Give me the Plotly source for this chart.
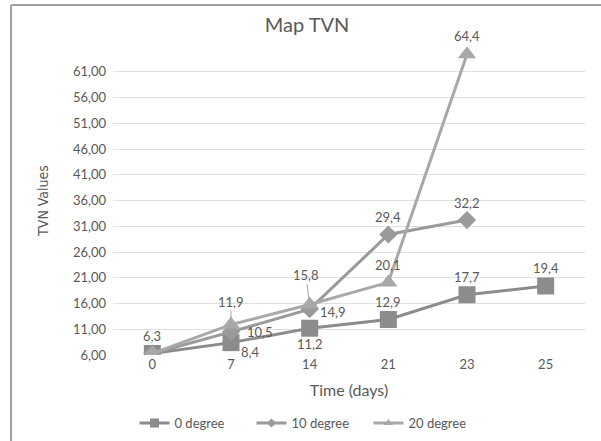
import plotly.graph_objects as go

categories = ["0", "7", "14", "21", "23", "25"]
deg0 = [6.3, 8.4, 11.2, 12.9, 17.7, 19.4]
deg10 = [6.3, 10.5, 14.9, 29.4, 32.2]
deg20 = [6.3, 11.9, 15.8, 20.1, 64.4]
tick_vals = [6, 11, 16, 21, 26, 31, 36, 41, 46, 51, 56, 61]
tick_text = ["6,00", "11,00", "16,00", "21,00", "26,00", "31,00", "36,00",
             "41,00", "46,00", "51,00", "56,00", "61,00"]

series_names = ["0 degree", "10 degree", "20 degree"]
series_values = [deg0, deg10, deg20]
colors = ["#8c8c8c", "#9a9a9a", "#a8a8a8"]
symbols = ["square", "diamond", "triangle-up"]
sizes = [17, 14, 16]
legend_sizes = [9, 7, 8]

# label placement per point: (xshift, yshift, leader)
label_style = [
    [(0, 17, False), (19, -9, False), (0, -16, False), (0, 17, False), (0, 18, False), (0, 18, False)],
    [None, (29, 0, False), (23, -3, False), (0, 17, False), (0, 17, False)],
    [None, (0, 23, True), (-4, 30, True), (0, 17, False), (0, 18, False)],
]

fmt = lambda v: f"{v:.1f}".replace(".", ",")
lab_font = dict(family="Lato", size=13, color="#595959")

fig = go.Figure()
annotations = []
for name, vals, col, sym, sz, lsz, styles in zip(series_names, series_values, colors, symbols,
                                                 sizes, legend_sizes, label_style):
    xs = categories[:len(vals)]
    fig.add_trace(go.Scatter(
        x=xs, y=vals, name=name, mode="lines+markers", showlegend=False,
        line=dict(color=col, width=3),
        marker=dict(symbol=sym, size=sz, color=col),
    ))
    fig.add_trace(go.Scatter(
        x=[None], y=[None], name=name, mode="lines+markers", showlegend=True,
        line=dict(color=col, width=3),
        marker=dict(symbol=sym, size=lsz, color=col),
    ))
    for i, (yv, st) in enumerate(zip(vals, styles)):
        if st is None:
            continue
        dx, dy, leader = st
        if leader:
            annotations.append(dict(
                x=i, y=yv, xref="x", yref="y", text=fmt(yv),
                showarrow=True, arrowhead=0, arrowwidth=1, arrowcolor="#a6a6a6",
                ax=dx, ay=-dy, standoff=5, font=lab_font))
        else:
            annotations.append(dict(
                x=i, y=yv, xref="x", yref="y", text=fmt(yv),
                showarrow=False, xshift=dx, yshift=dy, font=lab_font))

fig.update_layout(
    width=601, height=441,
    margin=dict(l=113, r=16, t=46, b=86),
    paper_bgcolor="white", plot_bgcolor="white",
    font=dict(family="Lato", size=13, color="#595959"),
    title=dict(text="Map TVN", x=307/601, xanchor="center", y=1-25/441, yanchor="middle",
               xref="container", yref="container",
               font=dict(family="Lato", size=20, color="#595959")),
    xaxis=dict(type="category", categoryorder="array", categoryarray=categories,
               range=[-0.5, 5.5], showgrid=False, showline=False, zeroline=False,
               automargin=False,
               ticks="", tickfont=dict(family="Lato", size=13, color="#595959"),
               title=dict(text="Time (days)", standoff=13,
                          font=dict(family="Lato", size=16, color="#595959"))),
    yaxis=dict(range=[6, 66], tickvals=tick_vals, ticktext=tick_text,
               showgrid=True, gridcolor="#e0e0e0", gridwidth=1, zeroline=False,
               showline=False, ticks="", ticklabelstandoff=6, automargin=False,
               tickfont=dict(family="Lato", size=13, color="#595959"),
               title=dict(text="TVN Values", standoff=20,
                          font=dict(family="DejaVu Sans Condensed", size=14, color="#595959"))),
    legend=dict(orientation="h", xref="container", yref="container",
                x=310/601, xanchor="center", y=1-423/441, yanchor="middle",
                font=dict(family="Lato", size=13, color="#595959"), itemwidth=30,
                entrywidth=72),
    showlegend=True,
    annotations=annotations,
    shapes=[
        dict(type="line", xref="paper", yref="paper",
             x0=(11-113)/472, x1=(11-113)/472, y0=(355-5)/309, y1=(355-445)/309,
             line=dict(color="#a0a0a0", width=2)),
        dict(type="line", xref="paper", yref="paper",
             x0=(11-113)/472, x1=(605-113)/472, y0=(355-5)/309, y1=(355-5)/309,
             line=dict(color="#a0a0a0", width=2)),
    ],
)

fig.write_html("out.html", config={"displayModeBar": False},
               post_script="document.body.style.margin='0';")
